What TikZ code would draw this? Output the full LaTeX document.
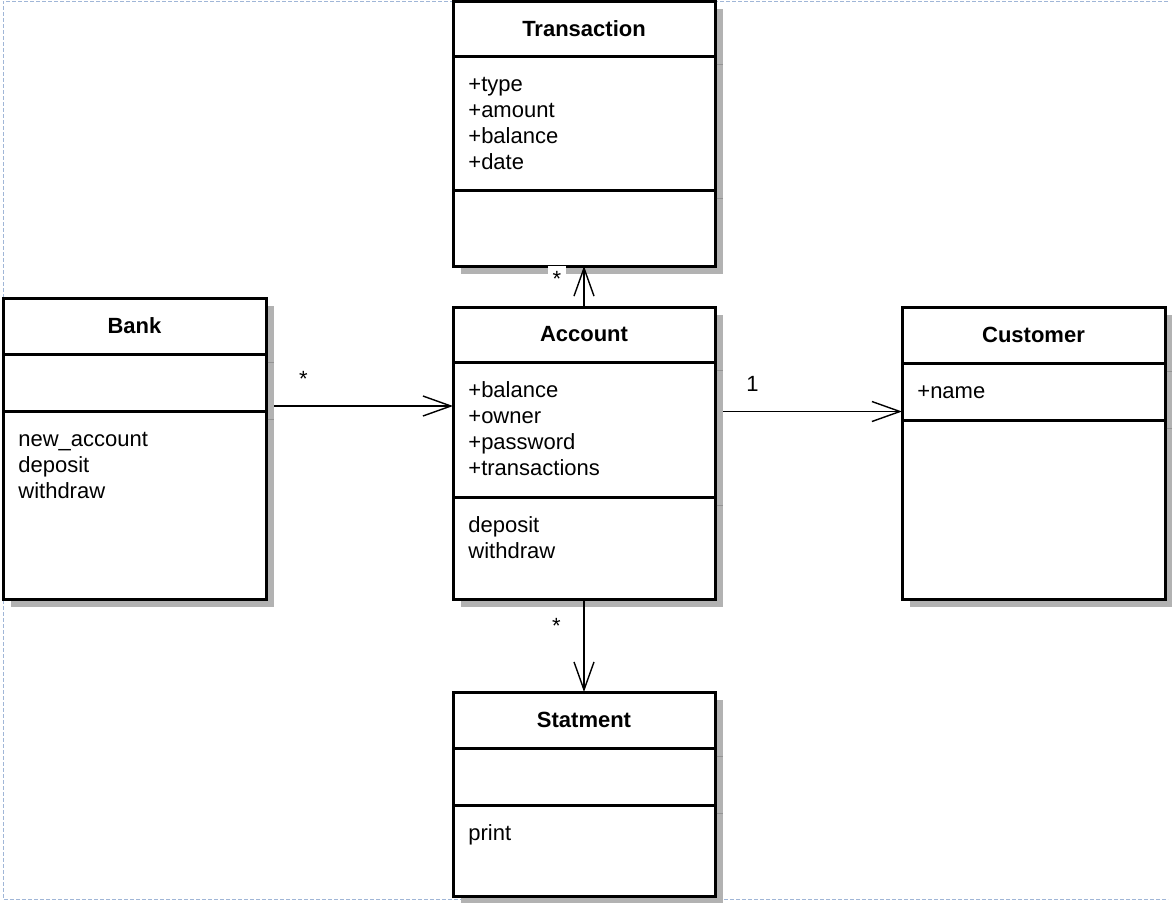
\documentclass[tikz,border=0pt]{standalone}
\usepackage{fontspec}
\setmainfont{Liberation Sans}
\usetikzlibrary{arrows.meta,shadows}

\definecolor{framecol}{RGB}{160,182,215}

\tikzset{
  umlclass/.style={rectangle, draw, line width=1.5pt, fill=white, inner sep=0pt, outer sep=0pt,
    drop shadow={shadow xshift=4pt, shadow yshift=-4pt, fill=black!30, opacity=1}},
  compart/.style={line width=1.5pt},
  septick/.style={draw=black!42, line width=0.5pt},
  classname/.style={font=\fontsize{11pt}{13pt}\selectfont\bfseries, inner sep=0pt},
  members/.style={font=\fontsize{11pt}{13pt}\selectfont, align=left, anchor=north west, inner sep=0pt},
  assoc/.style={line width=0.7pt, -{Straight Barb[length=14pt, width=10pt]}},
  mult/.style={font=\fontsize{11pt}{13pt}\selectfont, inner sep=0pt, anchor=base},
  pageframe/.style={draw=framecol, line width=0.5pt, dash pattern=on 2pt off 1pt}
}

\begin{document}
\begin{tikzpicture}[x=0.5pt, y=-0.5pt]
    \useasboundingbox (0,0) rectangle (1172,902);
    \draw[pageframe] (1168,1) -- (3,1) -- (3,899) -- (1168,899);

    % Define classes
    \node[umlclass, minimum width=131pt, minimum height=132.5pt] (trans) at (584,133.5) {};
    \node[umlclass, minimum width=131.5pt, minimum height=150.5pt] (bank) at (134.5,448.5) {};
    \node[umlclass, minimum width=131pt, minimum height=146pt] (acct) at (584,453) {};
    \node[umlclass, minimum width=131.5pt, minimum height=146pt] (cust) at (1033.5,453) {};
    \node[umlclass, minimum width=131pt, minimum height=102pt] (stat) at (584,794) {};

    % Compartment lines
    \foreach \cls/\ya/\yb in {trans/56/190, bank/354/411, acct/362/497, cust/363/420, stat/748/805} {
        \draw[compart] (\cls.west |- 0,\ya) -- (\cls.east |- 0,\ya);
        \draw[compart] (\cls.west |- 0,\yb) -- (\cls.east |- 0,\yb);
        \draw[septick] ([xshift=0.75pt]\cls.east |- 0,\ya+8) -- ([xshift=4pt]\cls.east |- 0,\ya+8);
        \draw[septick] ([xshift=0.75pt]\cls.east |- 0,\yb+8) -- ([xshift=4pt]\cls.east |- 0,\yb+8);
    }

    % Class names
    \node[classname] (trans-name) at (584,28.5) {Transaction};
    \node[classname] (bank-name) at (134.5,326) {Bank};
    \node[classname] (acct-name) at (584,334.5) {Account};
    \node[classname] (cust-name) at (1033.5,335) {Customer};
    \node[classname] (stat-name) at (584,720) {Statment};

    % Attributes and operations
    \node[members] (trans-attr) at (468,73) {\strut+type\\+amount\\+balance\\+date};
    \node[members] (bank-ops) at (18,428) {\strut new\_account\\deposit\\withdraw};
    \node[members] (acct-attr) at (468,379) {\strut+balance\\+owner\\+password\\+transactions};
    \node[members] (acct-ops) at (468,514) {\strut deposit\\withdraw};
    \node[members] (cust-attr) at (917,380) {\strut+name};
    \node[members] (stat-ops) at (468,822) {\strut print};

    % Draw associations
    \draw[assoc] (acct.north) -- node[mult, pos=0.51, xshift=-13.5pt, fill=white, inner sep=2.5pt] {*} (trans.south);
    \draw[assoc, shorten <=4pt] (bank.east |- 0,406) -- node[mult, pos=0.2, yshift=10pt] {*} (acct.west |- 0,406);
    \draw[assoc, shorten <=4pt] (acct.east |- 0,411.5) -- node[mult, pos=0.2, yshift=10pt] {1} (cust.west |- 0,411.5);
    \draw[assoc] (acct.south) -- node[mult, pos=0.376, xshift=-13.75pt] {*} (stat.north);
\end{tikzpicture}
\end{document}
